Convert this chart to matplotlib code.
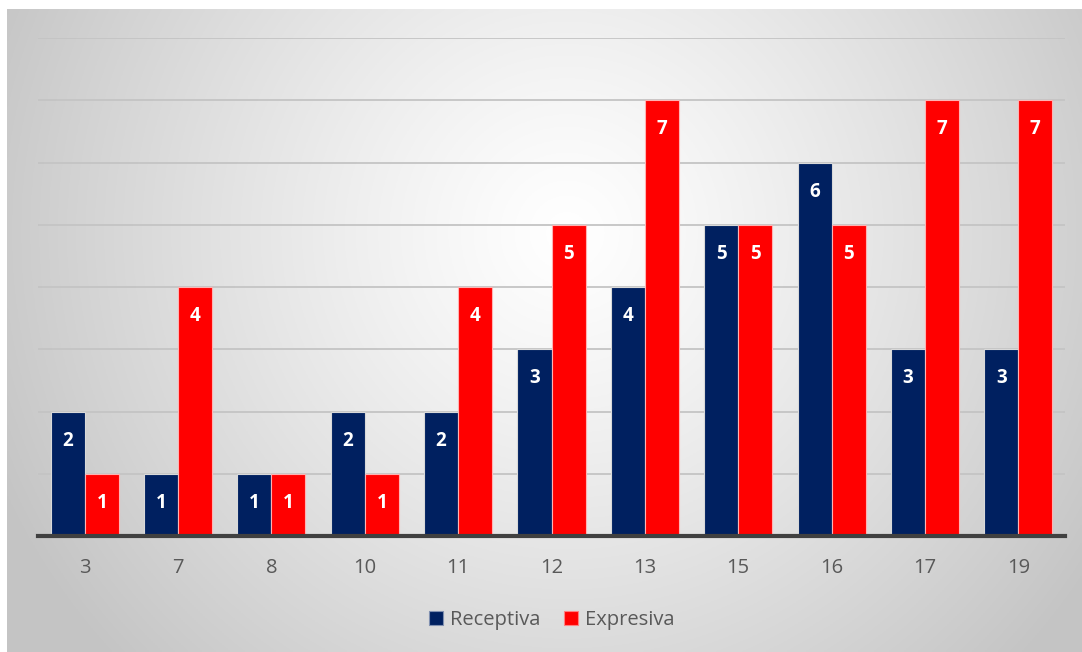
import numpy as np
import matplotlib
matplotlib.use("Agg")
import matplotlib.pyplot as plt
from matplotlib.patches import Patch

categories = ["3", "7", "8", "10", "11", "12", "13", "15", "16", "17", "19"]
receptiva = [2, 1, 1, 2, 2, 3, 4, 5, 6, 3, 3]
expresiva = [1, 4, 1, 1, 4, 5, 7, 5, 5, 7, 7]
series_names = ["Receptiva", "Expresiva"]
colors = ["#002060", "#FF0000"]

plt.rcParams['font.family'] = ['Open Sans', 'DejaVu Sans']

W, H = 1082, 652
fig = plt.figure(figsize=(W / 100, H / 100), dpi=100)
fig.patch.set_facecolor("white")

# background radial gradient
bg = fig.add_axes([7 / W, 0, 1 - 7 / W, (H - 9) / H])
bg.set_axis_off()
ny, nx = 300, 500
yy, xx = np.mgrid[0:ny, 0:nx]
cx, cy = 0.52 * nx, 0.65 * ny
dx = (xx - cx) / nx
dy = (yy - cy) / ny * (643 / 1075)
r = np.sqrt(dx ** 2 + dy ** 2) / 0.58
r = np.clip(r, 0, 1)
v = 1.0 - 0.23 * r ** 1.2
img = np.dstack([v, v, v])
bg.imshow(img, extent=[0, 1, 0, 1], aspect='auto', origin='lower')
bg.set_xlim(0, 1)
bg.set_ylim(0, 1)

ax = fig.add_axes([38 / W, (H - 536) / H, (1065 - 38) / W, (536 - 38) / H])
ax.patch.set_alpha(0)
x = np.arange(len(categories))
w = 0.365
b1 = ax.bar(x - w / 2, receptiva, w, color=colors[0], edgecolor="#d9d9d9", linewidth=0.8, label=series_names[0], zorder=3)
b2 = ax.bar(x + w / 2, expresiva, w, color=colors[1], edgecolor="#ffb3b3", linewidth=0.8, label=series_names[1], zorder=3)

for bars, vals in ((b1, receptiva), (b2, expresiva)):
    for rect, val in zip(bars, vals):
        ax.annotate(str(val), (rect.get_x() + rect.get_width() / 2, val),
                    xytext=(0, -21), textcoords="offset points",
                    ha="center", va="center", color="white",
                    fontsize=13.5, fontweight="bold", zorder=4)

ax.set_xlim(-0.5, len(categories) - 0.5)
ax.set_ylim(0, 8)
ax.set_yticks(np.arange(0, 9))
ax.yaxis.grid(True, color="#c4c4c4", linewidth=1.3, zorder=0)
ax.set_yticklabels([])
ax.tick_params(axis='y', length=0)
ax.set_xticks(x)
ax.set_xticklabels(categories, fontsize=14.5, color="#595959")
ax.tick_params(axis='x', length=0, pad=16)
for s in ["top", "right", "left"]:
    ax.spines[s].set_visible(False)
ax.spines["bottom"].set_color("#404040")
ax.spines["bottom"].set_linewidth(3)
ax.spines["bottom"].set_zorder(5)

handles = [Patch(facecolor=colors[0], edgecolor="#8090b0", linewidth=0.8),
           Patch(facecolor=colors[1], edgecolor="#ff8080", linewidth=0.8)]
fig.legend(handles, series_names, loc="center", bbox_to_anchor=(0.51, (H - 620) / H),
           ncol=2, frameon=False, fontsize=14.5, handlelength=0.7, handleheight=0.7,
           handletextpad=0.35, columnspacing=1.2, labelcolor="#595959")

fig.savefig("out.png", dpi=100)
